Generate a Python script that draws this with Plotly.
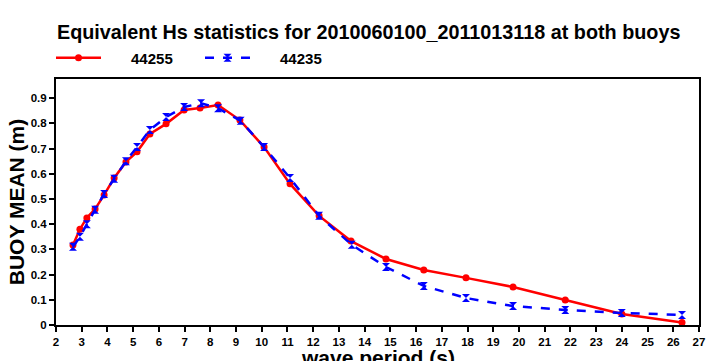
import plotly.graph_objects as go

period_red = [2.66, 2.93, 3.2, 3.52, 3.87, 4.26, 4.72, 5.15, 5.65, 6.28, 6.98, 7.6, 8.3, 9.15, 10.09, 11.1, 12.23, 13.47, 14.83, 16.3, 17.94, 19.77, 21.8, 24.0, 26.34]
mean_44255 = [0.317, 0.38, 0.425, 0.46, 0.516, 0.583, 0.647, 0.687, 0.758, 0.798, 0.853, 0.861, 0.873, 0.813, 0.706, 0.56, 0.433, 0.333, 0.262, 0.218, 0.187, 0.151, 0.099, 0.044, 0.01]
period_blue = [2.66, 2.93, 3.2, 3.52, 3.87, 4.26, 4.72, 5.15, 5.65, 6.28, 6.98, 7.64, 8.3, 9.18, 10.09, 11.1, 12.23, 13.5, 14.83, 16.3, 17.94, 19.77, 21.8, 24.0, 26.34]
mean_44235 = [0.31, 0.35, 0.40, 0.457, 0.52, 0.58, 0.65, 0.706, 0.774, 0.825, 0.865, 0.88, 0.86, 0.81, 0.706, 0.583, 0.433, 0.318, 0.23, 0.155, 0.107, 0.075, 0.06, 0.048, 0.04]

x_ticks = list(range(2, 28))
y_ticks = [0, 0.1, 0.2, 0.3, 0.4, 0.5, 0.6, 0.7, 0.8, 0.9]
y_tick_labels = ["0", "0.1", "0.2", "0.3", "0.4", "0.5", "0.6", "0.7", "0.8", "0.9"]

FONT = "Liberation Sans"
NB = "\u00a0"

fig = go.Figure()
fig.add_trace(go.Scatter(
    x=period_red, y=mean_44255, mode="lines+markers", name=NB * 6 + "<b>44255</b>",
    line=dict(color="#ff0000", width=2.5),
    marker=dict(symbol="circle", size=7, color="#ff0000"),
))
fig.add_trace(go.Scatter(
    x=period_blue, y=mean_44235, mode="lines+markers", name=NB * 6 + "<b>44235</b>",
    line=dict(color="#0000ff", width=2.5, dash="dash"),
    marker=dict(symbol="hourglass", size=8, color="#0000ff"),
))

axis_common = dict(
    showline=True, linecolor="black", linewidth=2, mirror=True,
    ticks="outside", ticklen=5, tickwidth=1.5, tickcolor="black",
    showgrid=False, zeroline=False, automargin=False,
    tickfont=dict(family=FONT, size=11.5, color="black", weight="bold"),
)

fig.update_layout(
    width=710, height=361,
    margin=dict(l=56, r=11, t=79, b=36),
    paper_bgcolor="white", plot_bgcolor="white",
    title=dict(text="<b>Equivalent Hs statistics for 2010060100_2011013118 at both buoys</b>",
               x=57 / 710, xanchor="left", y=1 - 32 / 361, yanchor="middle",
               font=dict(family=FONT, size=19.8, color="black")),
    showlegend=True,
    legend=dict(orientation="h", x=-5 / 643, xanchor="left", y=1.085, yanchor="middle",
                font=dict(family=FONT, size=15, color="black"),
                entrywidth=89, entrywidthmode="pixels", itemwidth=45,
                bgcolor="rgba(0,0,0,0)"),
    xaxis=dict(range=[2, 27], tickvals=x_ticks, ticktext=[str(t) for t in x_ticks],
               **axis_common),
    yaxis=dict(range=[0, 0.976], tickvals=y_ticks, ticktext=y_tick_labels,
               title=dict(text="<b>BUOY MEAN (m)</b>", font=dict(family=FONT, size=21, color="black"), standoff=0),
               **axis_common),
    annotations=[dict(text="<b>wave period (s)</b>", xref="paper", yref="paper",
                      x=0.5, y=-19 / 246, xanchor="center", yanchor="top", showarrow=False,
                      font=dict(family=FONT, size=21, color="black"))],
)

fig.write_html("out.html")
